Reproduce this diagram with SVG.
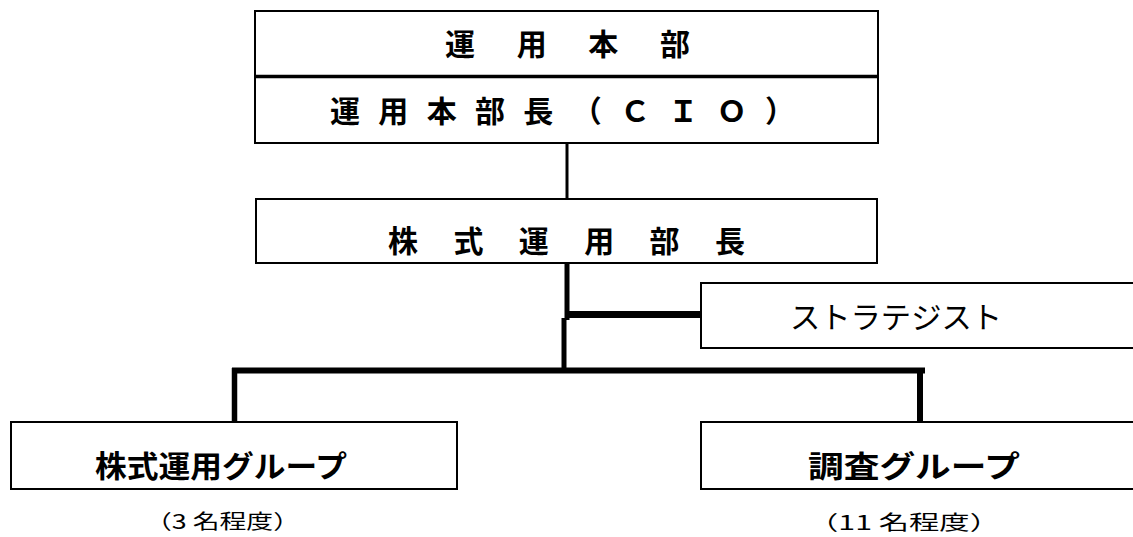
<svg xmlns="http://www.w3.org/2000/svg" width="1133" height="537" viewBox="0 0 1133 537">
<style>
.box{fill:#fff;stroke:#000;stroke-width:2}
.c{stroke:#000;fill:none;stroke-linecap:butt}
.t{font-family:"Noto Sans CJK JP","Noto Sans CJK SC",sans-serif;fill:#000}
.b{font-weight:bold}
</style>
<rect width="1133" height="537" fill="#fff"/>
<g id="connectors">
<line class="c" x1="567" y1="143" x2="567" y2="199" stroke-width="3"/>
<line class="c" x1="567" y1="263" x2="567" y2="320" stroke-width="5"/>
<line class="c" x1="564" y1="318" x2="564" y2="373" stroke-width="5"/>
<line class="c" x1="567" y1="314.5" x2="701" y2="314.5" stroke-width="7"/>
<line class="c" x1="232" y1="370.5" x2="925" y2="370.5" stroke-width="6"/>
<line class="c" x1="234.5" y1="368" x2="234.5" y2="422" stroke-width="5.5"/>
<line class="c" x1="920" y1="368" x2="920" y2="422" stroke-width="6"/>
</g>
<g id="honbu">
<rect class="box" x="255" y="11" width="623" height="132"/>
<line x1="255" y1="76.5" x2="878" y2="76.5" stroke="#000" stroke-width="3.5"/>
<text class="t b" x="445" y="55" font-size="30" textLength="245" lengthAdjust="spacing">運用本部</text>
<text class="t b" x="330" y="122" font-size="30" textLength="465" lengthAdjust="spacing">運用本部長（ＣＩＯ）</text>
</g>
<g id="kabushiki-buchou">
<rect class="box" x="256" y="199" width="621" height="64"/>
<text class="t b" x="388" y="252" font-size="30" textLength="357" lengthAdjust="spacing">株式運用部長</text>
</g>
<g id="strategist">
<rect class="box" x="701" y="283" width="450" height="65"/>
<text class="t" x="790" y="328" font-size="30" textLength="212" lengthAdjust="spacingAndGlyphs">ストラテジスト</text>
</g>
<g id="kabushiki-group">
<rect class="box" x="11" y="422" width="446" height="67"/>
<text class="t b" x="95" y="477" font-size="30" textLength="252" lengthAdjust="spacingAndGlyphs">株式運用グループ</text>
<text class="t" x="145" y="529" font-size="20" textLength="155" lengthAdjust="spacingAndGlyphs">（3 名程度）</text>
</g>
<g id="chousa-group">
<rect class="box" x="701" y="422" width="450" height="67"/>
<text class="t b" x="808" y="477" font-size="30" textLength="212" lengthAdjust="spacingAndGlyphs">調査グループ</text>
<text class="t" x="808" y="530" font-size="20" textLength="192" lengthAdjust="spacingAndGlyphs">（11 名程度）</text>
</g>
</svg>
